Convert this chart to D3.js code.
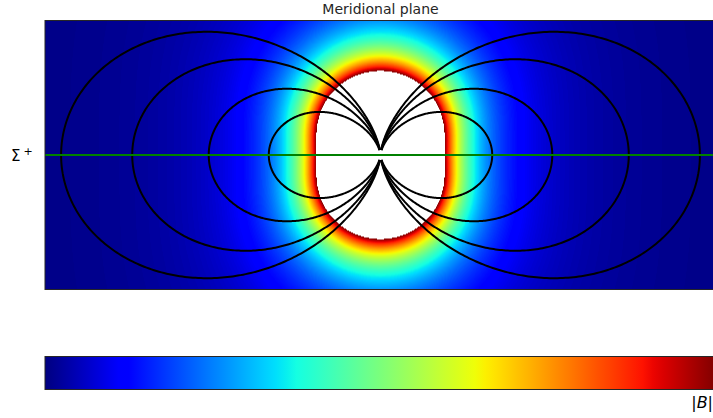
<!DOCTYPE html>
<html>
<head>
<meta charset="utf-8">
<script src="https://cdn.jsdelivr.net/npm/d3@7"></script>
<style>
  html, body { margin: 0; padding: 0; background: #fff; }
  svg { display: block; font-family: "DejaVu Sans", sans-serif; }
</style>
</head>
<body>
<svg id="chart" width="713" height="418"></svg>
<script>
// Meridional-plane domain (units of planetary radii)
const xDomain = [-10, 10];
const zDomain = [-4, 4];
// Equatorial crossing distances of the traced dipole field lines
const fieldLineL = [3.33, 5.12, 7.40, 9.52];
// Field lines are stopped this close to the origin
const lineInnerRadius = 0.15;
// Core softening length of the dipole |B| model
const coreSoftening = 0.9;
// Colour range of |B| (dipole moment = 1); values above it are left white
const bRange = [0, 0.1065];
// Equator marker and its tick label
const equatorZ = [0];
const equatorLabel = ["Σ", "+"];
const titleText = "Meridional plane";
const colorbarLabel = ["|", "B", "|"];
// matplotlib "jet" colormap segments: [position, value]
const jetRed   = [[0, 0], [0.35, 0], [0.66, 1], [0.89, 1], [1, 0.5]];
const jetGreen = [[0, 0], [0.125, 0], [0.375, 1], [0.64, 1], [0.91, 0], [1, 0]];
const jetBlue  = [[0, 0.5], [0.11, 1], [0.34, 1], [0.65, 0], [1, 0]];

const svg = d3.select("#chart");
const plot = { left: 45, right: 716, top: 20.5, bottom: 289.5 };
const x = d3.scaleLinear().domain(xDomain).range([plot.left, plot.right]);
const z = d3.scaleLinear().domain(zDomain).range([plot.bottom, plot.top]);

const chan = seg => d3.scaleLinear().domain(seg.map(d => d[0])).range(seg.map(d => d[1])).clamp(true);
const jr = chan(jetRed), jg = chan(jetGreen), jb = chan(jetBlue);
const N = 256;
const jet = t => {
  const q = Math.min(N - 1, Math.max(0, Math.floor(t * N))) / (N - 1);
  return [jr(q) * 255, jg(q) * 255, jb(q) * 255];
};
const norm = d3.scaleLinear().domain(bRange).range([0, 1]);

// |B| = sqrt(1 + 3 cos^2(theta)) / (r^2 + eps^2)^(3/2)
const bMag = (xx, zz) => {
  const r2 = xx * xx + zz * zz;
  const s2 = r2 + coreSoftening * coreSoftening;
  return Math.sqrt((r2 + 3 * zz * zz) / r2) / (s2 * Math.sqrt(s2));
};

// |B| image, one sample per screen pixel
const W = Math.round(plot.right - plot.left), H = Math.round(plot.bottom - plot.top);
const canvas = document.createElement("canvas");
canvas.width = W; canvas.height = H;
const ctx = canvas.getContext("2d");
const img = ctx.createImageData(W, H);
for (let j = 0; j < H; j++) {
  const zz = z.invert(plot.top + j + 0.5);
  for (let i = 0; i < W; i++) {
    const xx = x.invert(plot.left + i + 0.5);
    const t = norm(bMag(xx, zz));
    const k = 4 * (j * W + i);
    if (t > 1) { img.data[k] = img.data[k + 1] = img.data[k + 2] = 255; }
    else { const c = jet(t); img.data[k] = c[0]; img.data[k + 1] = c[1]; img.data[k + 2] = c[2]; }
    img.data[k + 3] = 255;
  }
}
ctx.putImageData(img, 0, 0);

svg.append("defs").append("clipPath").attr("id", "plotClip")
  .append("rect").attr("x", plot.left).attr("y", plot.top)
  .attr("width", plot.right - plot.left).attr("height", plot.bottom - plot.top);

svg.append("image")
  .attr("x", plot.left).attr("y", plot.top).attr("width", W).attr("height", H)
  .attr("preserveAspectRatio", "none")
  .attr("href", canvas.toDataURL());

// Dipole field lines r = L sin^2(theta), both halves of the meridian
const lineGen = d3.line().x(d => x(d[0])).y(d => z(d[1]));
const lines = [];
fieldLineL.forEach(L => {
  const th0 = Math.asin(Math.sqrt(lineInnerRadius / L));
  const pts = d3.range(0, 401).map(k => {
    const th = th0 + (Math.PI - 2 * th0) * k / 400;
    const s = Math.sin(th);
    return [L * s * s * s, L * s * s * Math.cos(th)];
  });
  lines.push(pts, pts.map(p => [-p[0], p[1]]));
});
const g = svg.append("g").attr("clip-path", "url(#plotClip)");
g.selectAll("path.fl").data(lines).join("path").attr("class", "fl")
  .attr("d", lineGen).attr("fill", "none").attr("stroke", "#000").attr("stroke-width", 2);

g.selectAll("line.eq").data(equatorZ).join("line").attr("class", "eq")
  .attr("x1", x(xDomain[0])).attr("x2", x(xDomain[1]))
  .attr("y1", d => z(d)).attr("y2", d => z(d))
  .attr("stroke", "#008000").attr("stroke-width", 2);

svg.append("rect").attr("x", plot.left).attr("y", plot.top)
  .attr("width", plot.right - plot.left).attr("height", plot.bottom - plot.top)
  .attr("fill", "none").attr("stroke", "#262626").attr("stroke-width", 1);

// Equator tick label
const lab = svg.append("text").attr("x", 11).attr("y", z(0) + 6).attr("fill", "#000");
lab.append("tspan").attr("font-size", 15).text(equatorLabel[0]);
lab.append("tspan").attr("font-size", 11).attr("dx", 3).attr("dy", -6).text(equatorLabel[1]);

svg.append("text").attr("x", (plot.left + plot.right) / 2).attr("y", 14)
  .attr("text-anchor", "middle").attr("font-size", 14).attr("fill", "#262626").text(titleText);

// Colour bar
const cb = { left: 45, right: 716, top: 356.5, bottom: 389.5 };
const grad = svg.select("defs").append("linearGradient").attr("id", "jetGrad");
d3.range(0, 65).forEach(k => {
  const t = k / 64;
  grad.append("stop").attr("offset", t)
    .attr("stop-color", d3.rgb(jr(t) * 255, jg(t) * 255, jb(t) * 255));
});
svg.append("rect").attr("x", cb.left).attr("y", cb.top)
  .attr("width", cb.right - cb.left).attr("height", cb.bottom - cb.top)
  .attr("fill", "url(#jetGrad)").attr("stroke", "#262626").attr("stroke-width", 1);

const cl = svg.append("text").attr("x", 713).attr("y", 408).attr("text-anchor", "end")
  .attr("font-size", 16).attr("fill", "#000");
cl.append("tspan").text(colorbarLabel[0]);
cl.append("tspan").attr("font-style", "italic").text(colorbarLabel[1]);
cl.append("tspan").text(colorbarLabel[2]);
</script>
</body>
</html>
